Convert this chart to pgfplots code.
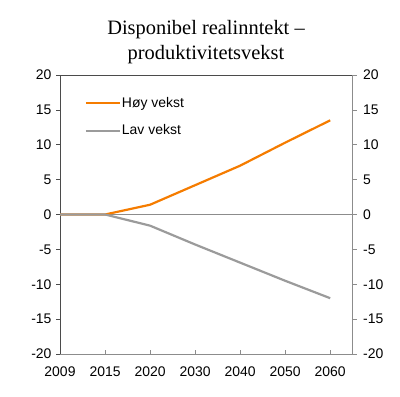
\documentclass[border=0pt]{standalone}
\usepackage{fontspec}
\setmainfont{Liberation Sans}
\newfontfamily\titlefont{Liberation Serif}
\usepackage{pgfplots}
\pgfplotsset{compat=1.18}
\definecolor{hoy}{RGB}{245,124,0}
\definecolor{lav}{RGB}{155,155,155}
\definecolor{axdark}{RGB}{75,75,75}
\definecolor{axgray}{RGB}{140,140,140}
\begin{document}
\begin{tikzpicture}
\path[use as bounding box] (0,0) rectangle (400bp,397bp);
\node[font=\titlefont\fontsize{20.5}{24}\selectfont, anchor=base] at (206bp,362bp) {Disponibel realinntekt –};
\node[font=\titlefont\fontsize{20.5}{24}\selectfont, anchor=base] at (206bp,337bp) {produktivitetsvekst};
\begin{axis}[
  at={(60bp,43bp)}, anchor=south west,
  scale only axis, width=292.7bp, height=279bp,
  xmin=0, xmax=6.5, ymin=-20, ymax=20,
  axis x line*=bottom, axis y line*=left,
  x axis line style={axgray, line width=0.8pt, -},
  y axis line style={axdark, line width=0.8pt, -},
  xtick={0,1,2,3,4,5,6},
  xticklabels={2009,2015,2020,2030,2040,2050,2060},
  ytick={-20,-15,-10,-5,0,5,10,15,20},
  x tick style={axgray, line width=0.6pt},
  y tick style={axdark, line width=0.6pt},
  major tick length=4bp,
  xtick align=inside,
  ytick align=outside,
  ticklabel style={font=\fontsize{14}{16}\selectfont},
  /pgf/number format/assume math mode=true,
  every y tick label/.append style={xshift=-1bp},
  every x tick label/.append style={yshift=-9bp},
  legend style={draw=none, fill=none, at={(0.084,0.85)}, anchor=west,
    font=\fontsize{14}{16}\selectfont, row sep=14bp, inner sep=0pt,
    nodes={inner sep=1bp}},
  legend cell align=left,
  legend image code/.code={\draw[#1] (0bp,0bp) -- (34bp,0bp);},
  clip=false,
]
\addplot[axgray, line width=0.8pt, forget plot] coordinates {(0,0) (6.5,0)};
\addplot[hoy, line width=2.2bp] coordinates {(0,0) (1,0) (2,1.4) (3,4.2) (4,7.0) (5,10.3) (6,13.5)};
\addplot[lav, line width=2.2bp] coordinates {(0,0) (1,0) (2,-1.6) (3,-4.3) (4,-6.9) (5,-9.5) (6,-12.0)};
\legend{Høy vekst, Lav vekst}
\end{axis}
\begin{axis}[
  at={(60bp,43bp)}, anchor=south west,
  scale only axis, width=292.7bp, height=279bp,
  xmin=0, xmax=6.5, ymin=-20, ymax=20,
  axis x line*=top, axis y line*=right,
  x axis line style={axdark, line width=0.8pt, -},
  y axis line style={axgray, line width=0.8pt, -},
  xtick=\empty,
  ytick={-20,-15,-10,-5,0,5,10,15,20},
  y tick style={axgray, line width=0.6pt},
  major tick length=4bp,
  ytick align=outside,
  ticklabel style={font=\fontsize{14}{16}\selectfont},
  /pgf/number format/assume math mode=true,
  every y tick label/.append style={xshift=3bp},
]
\end{axis}
\end{tikzpicture}
\end{document}
